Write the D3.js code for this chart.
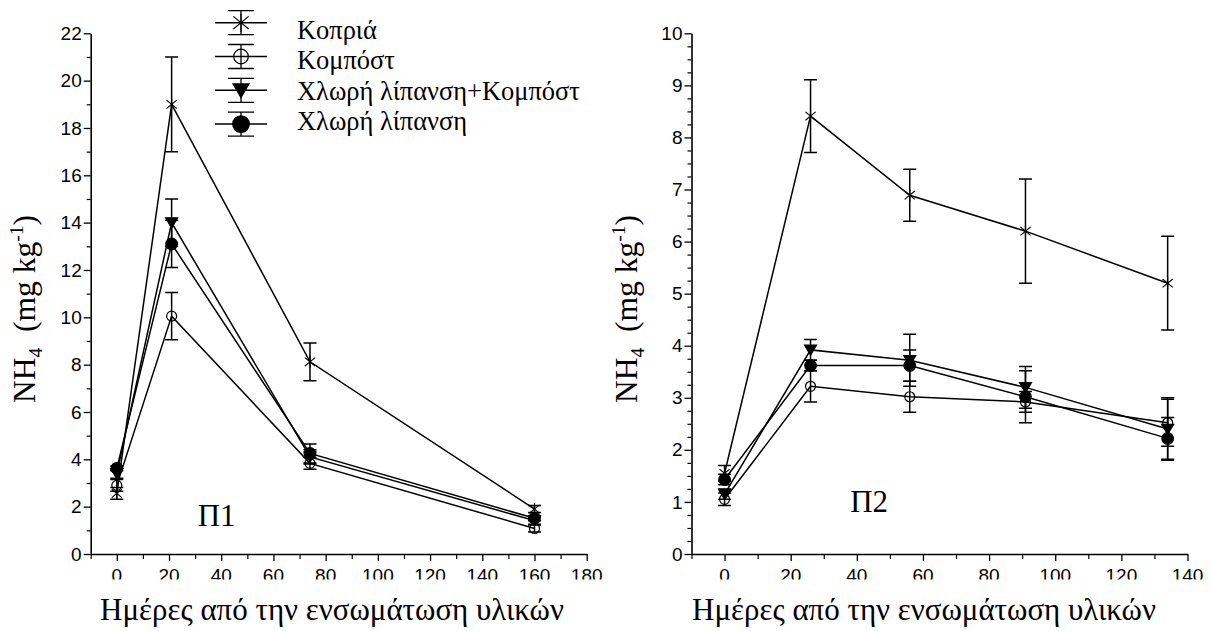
<!DOCTYPE html>
<html>
<head>
<meta charset="utf-8">
<script src="https://cdn.jsdelivr.net/npm/d3@7"></script>
<style>
body { margin: 0; background: #fff; }
</style>
</head>
<body>
<svg id="chart" width="1212" height="631"></svg>
<script>
// legend order
var seriesNames = ["Κοπριά", "Κομπόστ", "Χλωρή λίπανση+Κομπόστ", "Χλωρή λίπανση"];
var seriesSymbols = ["star", "open", "tri", "dot"];

// Π1
var daysP1 = [0, 21, 74, 160];
var koprP1 = [2.56, 19.0, 8.12, 1.9];
var koprP1Err = [0.25, 2.0, 0.8, 0.15];
var kompP1 = [2.9, 10.05, 3.83, 1.08];
var kompP1Err = [0.25, 1.0, 0.25, 0.15];
var xlkP1 = [3.4, 14.0, 4.1, 1.41];
var xlkP1Err = [0.2, 1.0, 0.3, 0.15];
var xlP1 = [3.62, 13.1, 4.25, 1.51];
var xlP1Err = [0.1, 1.0, 0.4, 0.1];

// Π2
var daysP2 = [0, 26, 56, 91, 134];
var koprP2 = [1.55, 8.41, 6.89, 6.2, 5.2];
var koprP2Err = [0.15, 0.7, 0.5, 1.0, 0.9];
var kompP2 = [1.05, 3.22, 3.02, 2.92, 2.52];
var kompP2Err = [0.12, 0.3, 0.3, 0.2, 0.45];
var xlkP2 = [1.15, 3.92, 3.72, 3.2, 2.4];
var xlkP2Err = [0.1, 0.2, 0.5, 0.4, 0.6];
var xlP2 = [1.43, 3.62, 3.62, 3.02, 2.22];
var xlP2Err = [0.1, 0.1, 0.3, 0.5, 0.4];

var xTitle = "Ημέρες από την ενσωμάτωση υλικών";

var serif = "'Liberation Serif', 'DejaVu Serif', serif";
var sans = "'Liberation Sans', Arial, sans-serif";

var svg = d3.select("#chart");
var defs = svg.append("defs");

// change font size so the text takes the wanted width
function fitWidth(sel, w) {
	var len = sel.node().getComputedTextLength();
	var fs = parseFloat(sel.attr("font-size"));
	sel.attr("font-size", fs * w / len);
}

function markerPath(type, r) {
	if (type == "star") {
		var a = r * 0.85, b = r * 0.7;
		return "M0," + (-r) + "L0," + r + "M" + (-a) + "," + (-b) + "L" + a + "," + b + "M" + a + "," + (-b) + "L" + (-a) + "," + b;
	}
	if (type == "tri") {
		return "M" + (-r) + "," + (-r * 0.8) + "L" + r + "," + (-r * 0.8) + "L0," + (r * 0.9) + "Z";
	}
	return d3.arc()({ innerRadius: 0, outerRadius: r, startAngle: 0, endAngle: 2 * Math.PI });
}

function drawMarker(g, type, cx, cy, r) {
	var p = g.append("path")
		.attr("transform", "translate(" + cx + "," + cy + ")")
		.attr("d", markerPath(type, r))
		.attr("stroke", "#000")
		.attr("stroke-width", type == "star" ? 1.1 : 1.2);
	if (type == "open" || type == "star") p.attr("fill", "none");
	else p.attr("fill", "#000");
}

var panels = [
	{
		days: daysP1, vals: [koprP1, kompP1, xlkP1, xlP1], errs: [koprP1Err, kompP1Err, xlkP1Err, xlP1Err],
		xDomain: [-10, 180], yMax: 22, yStep: 2, yMinor: 1,
		x0: 90.7, x1: 586.7, label: "Π1", labelAt: [31, 1.2],
		yTitleX: 35, titleX: 332
	},
	{
		days: daysP2, vals: [koprP2, kompP2, xlkP2, xlP2], errs: [koprP2Err, kompP2Err, xlkP2Err, xlP2Err],
		xDomain: [-10, 140], yMax: 10, yStep: 1, yMinor: 0.25,
		x0: 691.5, x1: 1187.5, label: "Π2", labelAt: [38, 0.8],
		yTitleX: 637, titleX: 924
	}
];

var yTop = 33.3, yBottom = 554;

panels.forEach(function (p, pi) {
	var x = d3.scaleLinear().domain(p.xDomain).range([p.x0, p.x1]);
	var y = d3.scaleLinear().domain([0, p.yMax]).range([yBottom, yTop]);
	var g = svg.append("g");

	// y axis: minor ticks, then major ticks with labels
	var yMinorVals = d3.range(0, p.yMax + 0.001, p.yMinor).filter(function (v) {
		return Math.abs(v / p.yStep - Math.round(v / p.yStep)) > 0.001;
	});
	g.append("g").attr("transform", "translate(" + p.x0 + ",0)")
		.call(d3.axisLeft(y).tickValues(yMinorVals).tickSize(4).tickSizeOuter(0).tickFormat(""))
		.call(function (a) { a.select(".domain").remove(); a.selectAll("line").attr("stroke-width", 1.2); });
	g.append("g").attr("transform", "translate(" + p.x0 + ",0)")
		.call(d3.axisLeft(y).tickValues(d3.range(0, p.yMax + 0.001, p.yStep)).tickSize(7).tickSizeOuter(0).tickPadding(2))
		.call(function (a) {
			a.select(".domain").attr("stroke-width", 1.6);
			a.selectAll("line").attr("stroke-width", 1.3);
			a.selectAll("text").attr("font-family", sans).attr("font-size", 19).attr("fill", "#000");
		});

	// x axis
	var xMajor = d3.range(0, p.xDomain[1] + 1, 20);
	var xMinorVals = d3.range(p.xDomain[0], p.xDomain[1] + 1, 10).filter(function (v) { return v % 20 != 0; });
	g.append("g").attr("transform", "translate(0," + yBottom + ")")
		.call(d3.axisBottom(x).tickValues(xMinorVals).tickSize(5).tickSizeOuter(0).tickFormat(""))
		.call(function (a) { a.select(".domain").remove(); a.selectAll("line").attr("stroke-width", 1.2); });
	g.append("g").attr("transform", "translate(0," + yBottom + ")")
		.call(d3.axisBottom(x).tickValues(xMajor).tickSize(7).tickSizeOuter(0).tickFormat(""))
		.call(function (a) {
			a.select(".domain").attr("stroke-width", 1.6);
			a.selectAll("line").attr("stroke-width", 1.3);
		});

	// tick labels, bottom cut off like in the original
	var clipId = "xclip" + pi;
	defs.append("clipPath").attr("id", clipId).append("rect")
		.attr("x", p.x0 - 40).attr("y", yBottom).attr("width", p.x1 - p.x0 + 80).attr("height", 25.5);
	g.append("g").attr("clip-path", "url(#" + clipId + ")")
		.selectAll("text").data(xMajor).enter().append("text")
		.attr("x", function (d) { return x(d); })
		.attr("y", yBottom + 28)
		.attr("text-anchor", "middle")
		.attr("font-family", sans).attr("font-size", 19)
		.text(function (d) { return d; });

	// series: line, error bars, markers
	p.vals.forEach(function (vals, si) {
		var pts = p.days.map(function (d, i) { return [d, vals[i], p.errs[si][i]]; });
		g.append("path")
			.attr("d", d3.line().x(function (d) { return x(d[0]); }).y(function (d) { return y(d[1]); })(pts))
			.attr("fill", "none").attr("stroke", "#000").attr("stroke-width", 1.5);
		pts.forEach(function (d) {
			var cx = x(d[0]), hi = y(d[1] + d[2]), lo = y(d[1] - d[2]);
			g.append("path")
				.attr("d", "M" + cx + "," + hi + "V" + lo + "M" + (cx - 6.5) + "," + hi + "H" + (cx + 6.5) + "M" + (cx - 6.5) + "," + lo + "H" + (cx + 6.5))
				.attr("stroke", "#000").attr("stroke-width", 1.5).attr("fill", "none");
		});
		var r = { star: 6, open: 5, tri: 6, dot: 5.8 }[seriesSymbols[si]];
		pts.forEach(function (d) {
			drawMarker(g, seriesSymbols[si], x(d[0]), y(d[1]), r);
		});
	});

	// panel label
	g.append("text").attr("x", x(p.labelAt[0])).attr("y", y(p.labelAt[1]))
		.attr("font-family", serif).attr("font-size", 31).text(p.label);

	// y title
	var yt = g.append("text")
		.attr("transform", "translate(" + p.yTitleX + ",309) rotate(-90)")
		.attr("text-anchor", "middle")
		.attr("font-family", serif).attr("font-size", 29);
	yt.append("tspan").text("NH");
	yt.append("tspan").attr("font-size", "0.62em").attr("dy", "0.35em").text("4");
	yt.append("tspan").attr("dy", "-0.22em").text("\u00a0\u00a0(mg kg");
	yt.append("tspan").attr("font-size", "0.62em").attr("dy", "-0.6em").text("-1");
	yt.append("tspan").attr("dy", "0.37em").text(")");
	fitWidth(yt, 188);

	// x title
	var xt = g.append("text").attr("x", p.titleX).attr("y", 620)
		.attr("text-anchor", "middle")
		.attr("font-family", serif).attr("font-size", 28).text(xTitle);
	fitWidth(xt, 464);
});

// legend (top of Π1)
var leg = svg.append("g");
var legText = [];
seriesNames.forEach(function (name, i) {
	var cy = 22.7 + i * 33.8;
	leg.append("path").attr("d", "M215," + cy + "H267").attr("stroke", "#000").attr("stroke-width", 1.5);
	leg.append("path")
		.attr("d", "M241," + (cy - 12) + "V" + (cy + 12) + "M228," + (cy - 12) + "H254M228," + (cy + 12) + "H254")
		.attr("stroke", "#000").attr("stroke-width", 1.3).attr("fill", "none");
	var r = { star: 9, open: 7.3, tri: 8, dot: 8.3 }[seriesSymbols[i]];
	drawMarker(leg, seriesSymbols[i], 241, cy, r);
	legText.push(leg.append("text").attr("x", 297).attr("y", 39 + i * 30.3)
		.attr("font-family", serif).attr("font-size", 22).text(name));
});
fitWidth(legText[2], 283);
var fs = legText[2].attr("font-size");
legText.forEach(function (t) { t.attr("font-size", fs); });
</script>
</body>
</html>
